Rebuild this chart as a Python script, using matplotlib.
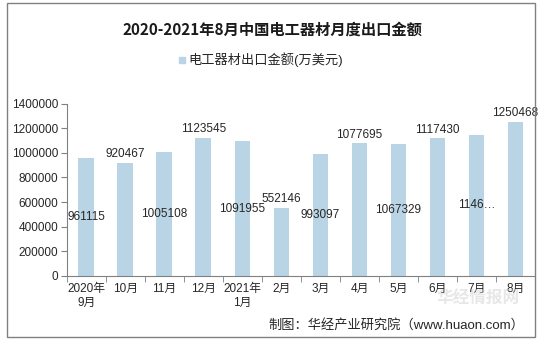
import matplotlib
matplotlib.use('Agg')
import matplotlib.pyplot as plt
import numpy as np

months = ['2020年\n9月', '10月', '11月', '12月', '2021年\n1月', '2月', '3月',
          '4月', '5月', '6月', '7月', '8月']
values = [961115, 920467, 1005108, 1123545, 1091955, 552146, 993097,
          1077695, 1067329, 1117430, 1146500, 1250468]
labels = ['961115', '920467', '1005108', '1123545', '1091955', '552146',
          '993097', '1077695', '1067329', '1117430', '1146…', '1250468']
yticks = [0, 200000, 400000, 600000, 800000, 1000000, 1200000, 1400000]

plt.rcParams['font.family'] = ['Liberation Sans', 'Noto Sans CJK SC']
bar_color = '#b8d4e5'
text_color = '#262626'

fig = plt.figure(figsize=(5.44, 3.43), dpi=100)
# outer frame
fig.patches.append(plt.Rectangle((7 / 544, 1 - 337 / 343), 528 / 544, 334 / 343,
                                 transform=fig.transFigure, fill=False,
                                 edgecolor='#808080', linewidth=1.0))

ax = fig.add_axes([66.7 / 544, 1 - 276 / 343, (535 - 66.7) / 544, (276 - 103.5) / 343])
x = np.arange(len(months))
ax.bar(x, values, width=0.4, color=bar_color)
ax.set_xlim(-0.5, len(months) - 0.5)
ax.set_ylim(0, 1400000)
ax.set_yticks(yticks)
ax.set_yticklabels([str(v) for v in yticks], fontsize=8.5, color=text_color)
ax.set_xticks(x)
ax.set_xticklabels(months, fontsize=8.5, color=text_color)
ax.set_xticks(np.arange(len(months) + 1) - 0.5, minor=True)
ax.tick_params(axis='x', which='major', length=0, pad=5)
ax.tick_params(axis='x', which='minor', length=4, color='#808080')
ax.tick_params(axis='y', length=4, color='#808080', pad=2)
for s in ['top', 'right']:
    ax.spines[s].set_visible(False)
for s in ['left', 'bottom']:
    ax.spines[s].set_color('#808080')

# labels: alternate between centre of bar and above bar
for i, v in enumerate(values):
    if i % 2 == 0:
        ax.text(i, v / 2, labels[i], ha='center', va='center', fontsize=8.5, color=text_color)
    else:
        ax.text(i, v + 70000, labels[i], ha='center', va='center', fontsize=8.5, color=text_color)

fig.text(0.5, 1 - 30 / 343, '2020-2021年8月中国电工器材月度出口金额', ha='center', va='center',
         fontsize=11, fontweight='bold', color='#1a1a1a', family=['Noto Sans CJK SC'])
fig.patches.append(plt.Rectangle((179 / 544, 1 - 63 / 343), 6 / 544, 6 / 343,
                                 transform=fig.transFigure, color=bar_color))
fig.text(188 / 544, 1 - 60 / 343, '电工器材出口金额(万美元)', ha='left', va='center',
         fontsize=9.5, color=text_color)
fig.text(524 / 544, 1 - 325 / 343, '制图：华经产业研究院（www.huaon.com）', ha='right', va='center',
         fontsize=9.5, color=text_color)
fig.text(478 / 544, 1 - 299 / 343, '华经情报网', ha='center', va='center',
         fontsize=12, fontweight='bold', color='#d0d0d0', alpha=0.5, zorder=0)

fig.savefig('out.png', dpi=100)
